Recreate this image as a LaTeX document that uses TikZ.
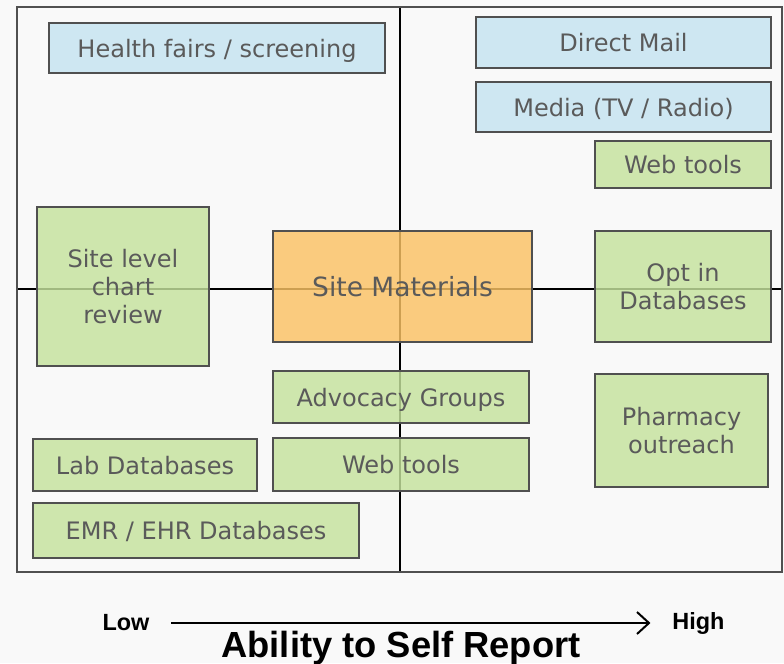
\documentclass[tikz,border=0pt]{standalone}
\usepackage{fontspec}
\setmainfont{DejaVu Sans}
\newfontfamily\arialfont{Liberation Sans}
\usepackage{xcolor}
\usepackage{tikz}
\usetikzlibrary{arrows.meta}
\definecolor{paper}{HTML}{F9F9F9}
\definecolor{boxline}{HTML}{505050}
\definecolor{boxtext}{HTML}{5A5A5A}
\definecolor{boxblue}{HTML}{C5E4F1}
\definecolor{boxgreen}{HTML}{C5E29D}
\definecolor{boxorange}{HTML}{FBC264}

\begin{document}
\begin{tikzpicture}[x=0.03cm, y=-0.03cm,
  box/.style 2 args={draw=boxline, line width=0.04cm, fill opacity=0.82, text opacity=1,
    text=boxtext, align=center, inner sep=0pt, text depth=0pt, minimum width=#1*0.03cm,
    minimum height=#2*0.03cm, font=\fontsize{20.5}{24}\selectfont},
  bluebox/.style={fill=boxblue},
  greenbox/.style={fill=boxgreen},
  orangebox/.style={fill=boxorange},
  axislabel/.style={inner sep=0pt, outer xsep=0.66cm, font=\arialfont\bfseries\fontsize{20}{24}\selectfont}]
\path [use as bounding box, fill=paper] (0,0) rectangle (784,663);
\draw [line width=0.045cm] (17,289) -- (782,289);
\draw [line width=0.045cm] (400,7) -- (400,572);
\draw [line width=0.06cm, draw=boxline] (17,7) rectangle (782,572);
\node [bluebox, box={336}{50}] (health) at (217,48) {Health fairs / screening};
\node [bluebox, box={295}{51}] (mail) at (623.5,42.5) {Direct Mail};
\node [bluebox, box={295}{50}] (media) at (623.5,107) {Media (TV / Radio)};
\node [greenbox, box={176}{47}] (webtop) at (683,164.5) {Web tools};
\node [greenbox, box={172}{159}] (chart) at (123,286.5) {Site level\\chart\\review};
\node [orangebox, box={259}{111}, font=\fontsize{22.6}{26}\selectfont] (materials) at (402.5,286.5) {Site Materials};
\node [greenbox, box={176}{111}] (optin) at (683,286.5) {Opt in\\Databases};
\node [greenbox, box={256}{52}] (advocacy) at (401,397) {Advocacy Groups};
\node [greenbox, box={173}{113}] (pharmacy) at (681.5,430.5) {Pharmacy\\outreach};
\node [greenbox, box={224}{52}] (lab) at (145,465) {Lab Databases};
\node [greenbox, box={256}{53}] (webmid) at (401,464.5) {Web tools};
\node [greenbox, box={326}{55}] (emr) at (196,530.5) {EMR / EHR Databases};
\node [axislabel] (low) at (126,623) {Low};
\node [axislabel] (high) at (698.5,623) {High};
\draw [line width=0.06cm, -{Straight Barb[length=0.36cm, width=0.66cm, line width=0.06cm]}] (low) -- (high);
\node [anchor=base, inner sep=0pt, font=\arialfont\bfseries\fontsize{31}{36}\selectfont] (ability) at (401,657) {Ability to Self Report};
\end{tikzpicture}
\end{document}
